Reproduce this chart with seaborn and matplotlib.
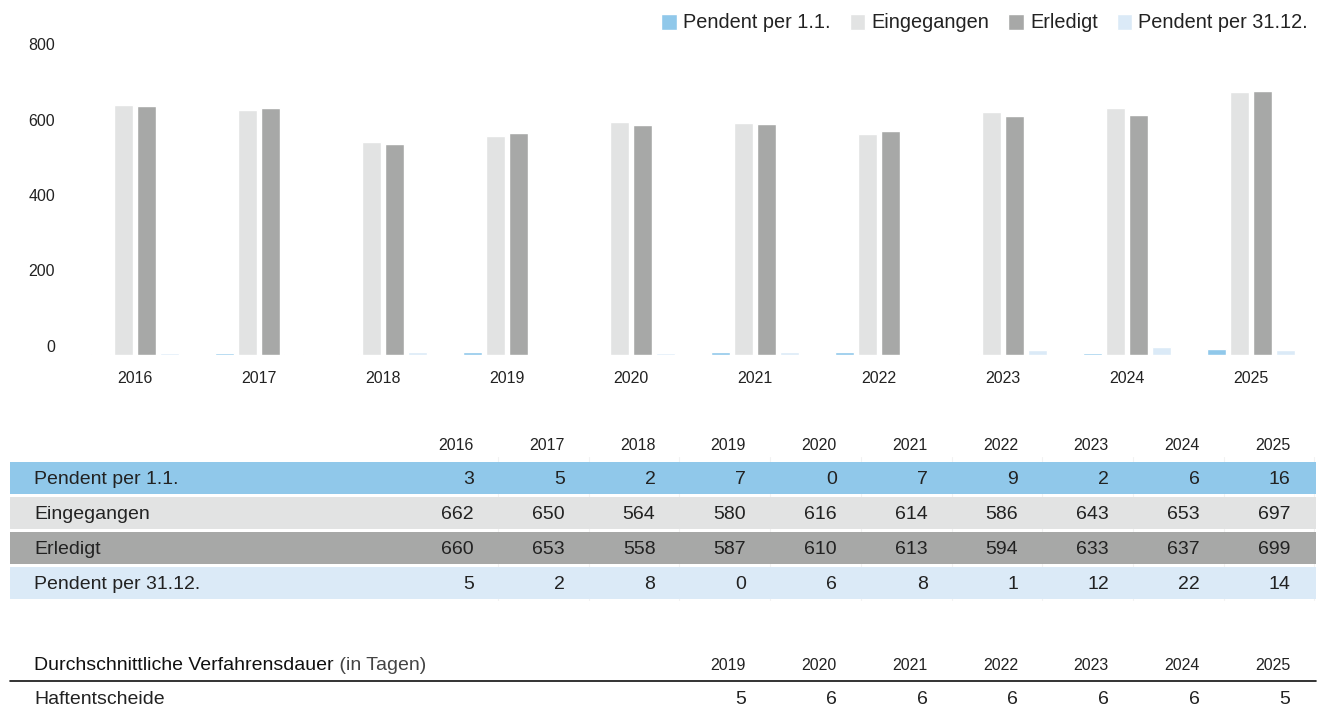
import matplotlib
matplotlib.use("Agg")
import matplotlib.pyplot as plt
from matplotlib.patches import Rectangle
import pandas as pd
import seaborn as sns

years = [2016, 2017, 2018, 2019, 2020, 2021, 2022, 2023, 2024, 2025]
series_names = ["Pendent per 1.1.", "Eingegangen", "Erledigt", "Pendent per 31.12."]
pendent_start = [3, 5, 2, 7, 0, 7, 9, 2, 6, 16]
eingegangen = [662, 650, 564, 580, 616, 614, 586, 643, 653, 697]
erledigt = [660, 653, 558, 587, 610, 613, 594, 633, 637, 699]
pendent_end = [5, 2, 8, 0, 6, 8, 1, 12, 22, 14]

dauer_title = "Durchschnittliche Verfahrensdauer"
dauer_unit = " (in Tagen)"
dauer_years = [2019, 2020, 2021, 2022, 2023, 2024, 2025]
dauer_label = "Haftentscheide"
haftentscheide = [5, 6, 6, 6, 6, 6, 5]

colors = ["#90c8ea", "#e2e3e3", "#a7a8a7", "#dbeaf7"]

W, H = 1319, 707
sns.set_theme(style="white")
plt.rcParams["font.family"] = ["Liberation Sans", "DejaVu Sans"]
txt = "#222222"
fs_row = 14
fs_head = 11.5

rows = [pendent_start, eingegangen, erledigt, pendent_end]
df = pd.DataFrame({
    "Jahr": [str(y) for _ in series_names for y in years],
    "Serie": [s for s in series_names for _ in years],
    "Wert": [v for r in rows for v in r],
})

fig = plt.figure(figsize=(W / 100, H / 100), dpi=100)

# table layer in pixel coordinates
tab = fig.add_axes([0, 0, 1, 1])
tab.set_xlim(0, W)
tab.set_ylim(H, 0)
tab.axis("off")

# bar chart
ax = fig.add_axes([73 / W, (H - 355) / H, 1240 / W, 302 / H])
sns.barplot(data=df, x="Jahr", y="Wert", hue="Serie", palette=colors,
            width=0.74, gap=0.17, saturation=1, ax=ax, legend=True)
ax.set_ylim(0, 800)
ax.set_xlim(-0.5, len(years) - 0.5)
ax.set_yticks([0, 200, 400, 600, 800])
ax.set_xlabel("")
ax.set_ylabel("")
sns.despine(ax=ax, left=True, bottom=True)
ax.tick_params(axis="y", length=0, pad=13, labelsize=11.5, labelcolor=txt)
ax.tick_params(axis="x", length=0, pad=11.5, labelsize=11.5, labelcolor=txt)
for t in ax.get_yticklabels():
    t.set_va("bottom")

handles, labels = ax.get_legend_handles_labels()
ax.get_legend().remove()
fig.legend(handles, labels, loc="center right", bbox_to_anchor=(1318 / W, 1 - 23 / H),
           ncol=4, frameon=False, handlelength=0.8, handleheight=0.85,
           handletextpad=0.3, columnspacing=0.95, borderpad=0,
           prop={"size": 14.3}, labelcolor=txt)

# data table
col_right = [474 + i * 90.7 for i in range(len(years))]
band_top = [462, 497, 532, 567]
band_h = 32
for i, y in enumerate(years):
    tab.text(col_right[i], 445, str(y), ha="right", va="center", fontsize=fs_head, color=txt)
for r, (name, vals) in enumerate(zip(series_names, rows)):
    tab.add_patch(Rectangle((10, band_top[r]), 1306, band_h, color=colors[r], lw=0))
    yc = band_top[r] + band_h / 2 + 1.5
    tab.text(34, yc, name, ha="left", va="center", fontsize=fs_row, color=txt)
    for i, v in enumerate(vals):
        tab.text(col_right[i], yc, str(v), ha="right", va="center", fontsize=fs_row, color=txt)
for i in range(len(years)):
    x = col_right[i] + 24
    if x < 1316:
        tab.plot([x, x], [457, 600], color="#f2f2f2", lw=0.8, zorder=0)

# duration table
title = tab.text(34, 665, dauer_title, ha="left", va="center", fontsize=fs_row, color="#111111")
tab.annotate(dauer_unit, xy=(1, 0.5), xycoords=title, ha="left", va="center",
             fontsize=fs_row, color="#444444")
tab.plot([10, 1316], [681, 681], color="#111111", lw=1.2)
for y, v in zip(dauer_years, haftentscheide):
    xr = col_right[years.index(y)]
    tab.text(xr, 665, str(y), ha="right", va="center", fontsize=fs_head, color=txt)
    tab.text(xr, 699, str(v), ha="right", va="center", fontsize=fs_row, color=txt)
tab.text(34, 699, dauer_label, ha="left", va="center", fontsize=fs_row, color=txt)

fig.savefig("out.png", dpi=100)
